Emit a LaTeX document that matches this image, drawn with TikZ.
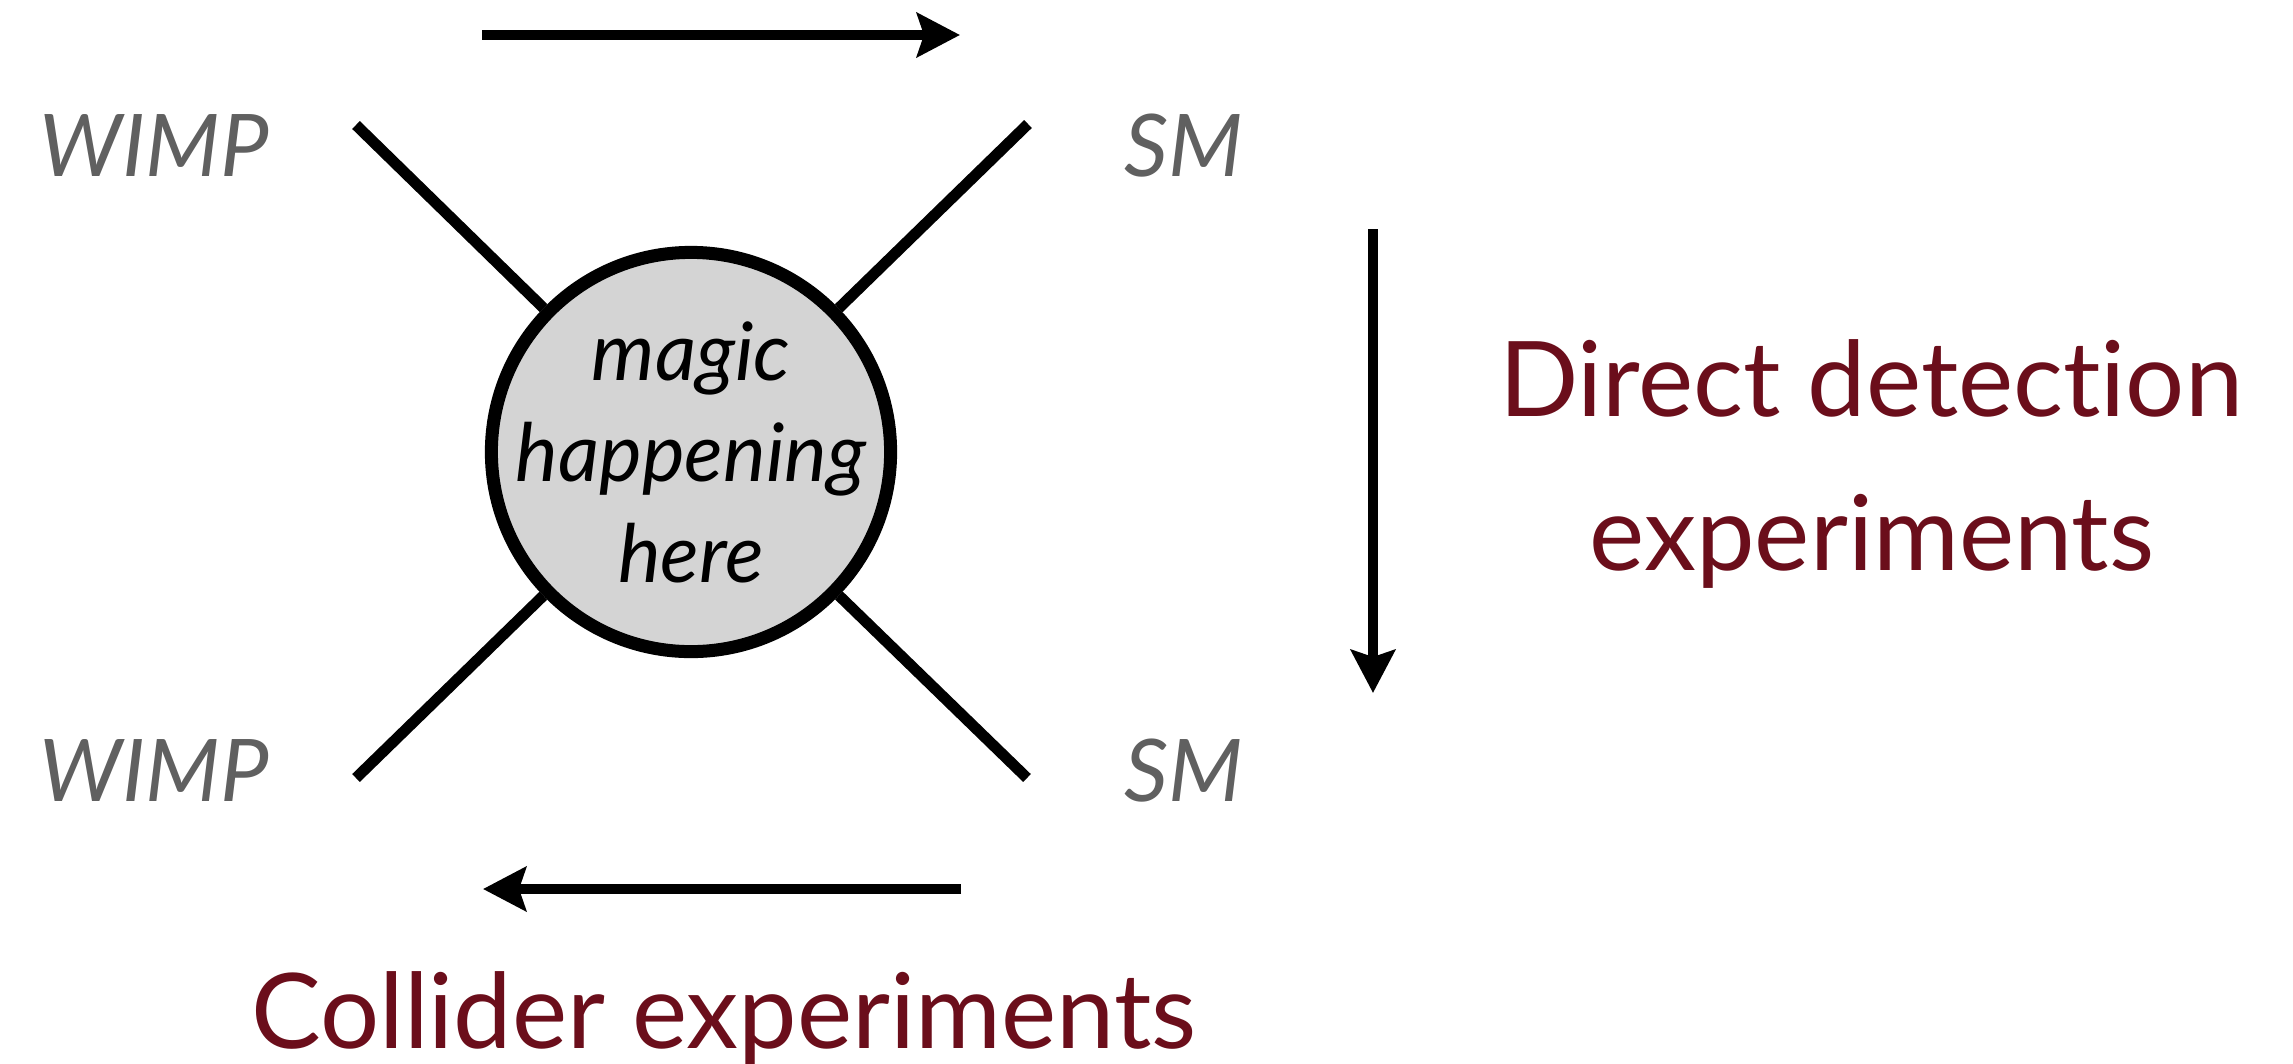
\documentclass[tikz,border=0pt]{standalone}
\usepackage{fontspec}
\setmainfont[Ligatures=NoCommon]{Lato}
\usetikzlibrary{arrows.meta}
\definecolor{labelgray}{HTML}{606060}
\definecolor{expred}{HTML}{6B0E1B}
\definecolor{blobfill}{HTML}{D4D4D4}
\begin{document}
\begin{tikzpicture}[x=0.01cm,y=-0.01cm,
  leg/.style={line width=0.11cm, black},
  flow/.style={line width=0.10cm, black, -{Stealth[length=0.43cm,width=0.44cm,inset=0.07cm]}},
  particle/.style={inner sep=0, text=labelgray, font=\fontsize{24.6}{29}\selectfont\itshape},
  experiment/.style={inner sep=0, text=expred, font=\fontsize{29.7}{35}\selectfont},
  blobstyle/.style={circle, draw=black, line width=0.13cm, fill=blobfill, minimum size=3.99cm, inner sep=0}]
\useasboundingbox (0,0) rectangle (2293,1063);

% interaction vertex
\node[blobstyle] (blob) at (691,452) {};
\node[align=center, inner sep=0, font=\fontsize{22.9}{28.7}\selectfont\itshape] (magic) at (691,452) {magic\\happening\\here};

% external legs
\coordinate (wimpin) at (356,125);
\coordinate (smout) at (1028,124);
\coordinate (wimpout) at (356,778);
\coordinate (smin) at (1027,778);
\draw[leg] (wimpin) -- (blob);
\draw[leg] (smout) -- (blob);
\draw[leg] (wimpout) -- (blob);
\draw[leg] (smin) -- (blob);

% particle labels
\node[particle, anchor=base west] (wimpA) at (39,176) {WIMP};
\node[particle, anchor=base west] (smA) at (1124,176) {SM};
\node[particle, anchor=base west] (wimpB) at (39,801) {WIMP};
\node[particle, anchor=base west] (smB) at (1124,801) {SM};

% process directions
\coordinate (annA) at (482,35);
\coordinate (annB) at (960,35);
\draw[flow] (annA) -- (annB);
\coordinate (ddA) at (1373,229);
\coordinate (ddB) at (1373,693);
\draw[flow] (ddA) -- (ddB);
\coordinate (colA) at (961,889);
\coordinate (colB) at (483,889);
\draw[flow] (colA) -- (colB);

% experiment labels
\node[experiment, anchor=base] (direct) at (1871,416) {Direct detection};
\node[experiment, anchor=base] (directB) at (1872,570) {experiments};
\node[experiment, anchor=base] (collider) at (724,1048) {Collider experiments};
\end{tikzpicture}
\end{document}
